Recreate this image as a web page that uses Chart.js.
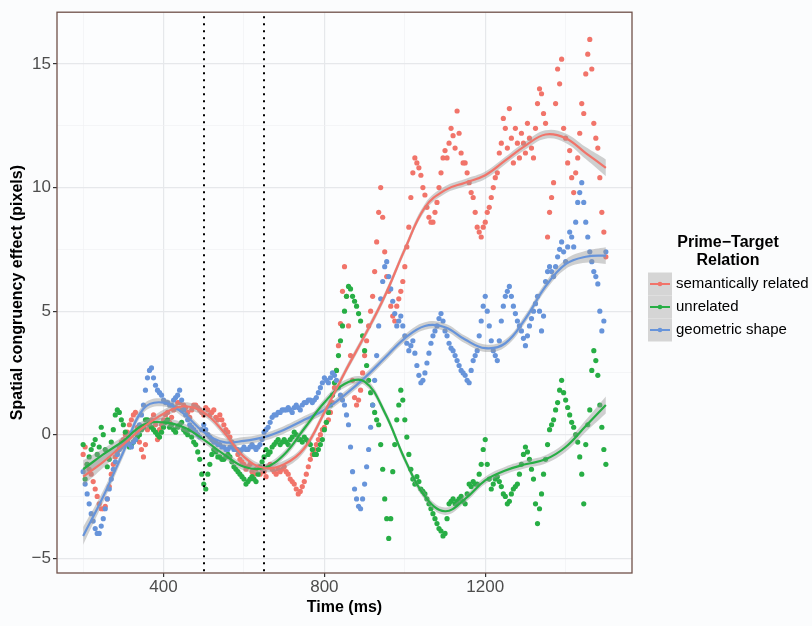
<!DOCTYPE html>
<html>
<head>
<meta charset="utf-8">
<script src="https://cdn.jsdelivr.net/npm/chart.js@4.4.1/dist/chart.umd.min.js"></script>
<style>
  html, body { margin: 0; padding: 0; background: #fbfcfd; }
  #wrap { width: 812px; height: 626px; }
</style>
</head>
<body>
<div id="wrap"><canvas id="chart" width="812" height="626"></canvas></div>
<script>
'use strict';

const seriesNames = ['semantically related', 'unrelated', 'geometric shape'];
const seriesColors = ['#F1746A', '#27AE45', '#6794DA'];

// raw samples read every 10 ms from 200 ms ...
const rawStart = 200;
const rawStep = 10;
const related = [
  -0.8, -1.2, -1.6, -2.2, -2.8, -3.0, -2.6, -1.6, -0.9, -0.5,
  -0.2, 0.1, 0.6, 0.9, -0.3, -0.9, 0.2, 0.6, 0.4, 0.2,
  0.6, 0.9, 0.7, 1.1, 1.3, 1.2, 0.9, 1.0, 1.2, 1.0,
  0.8, 1.0, 0.9, 0.7, 0.8, 0.4, 0.1, -0.3, -0.6, -1.0,
  -1.2, -1.3, -1.5, -1.4, -1.6, -1.5, -1.3, -1.4, -1.6, -1.5,
  -1.3, -1.6, -1.9, -2.2, -2.3, -1.9, -1.3, -0.8, -0.4, 0.0,
  0.3, 0.6, 1.3, 2.6, 4.5, 6.8, 4.4, 2.2, 1.2, 1.8,
  3.2, 4.4, 5.6, 7.8, 10.0, 7.4, 5.8, 4.8, 5.2, 5.8,
  6.8, 8.4, 10.6, 11.0, 10.5, 9.7, 8.8, 8.6, 9.4, 10.6,
  11.5, 11.8, 12.1, 13.1, 11.4, 11.0, 10.2, 9.6, 8.4, 8.0,
  8.6, 9.2, 10.0, 10.6, 11.8, 12.4, 13.2, 11.0, 11.8, 12.2,
  11.4, 12.0, 11.2, 13.4, 13.8, 12.6, 9.0, 10.2, 14.8, 15.2,
  12.0, 11.5, 9.8, 11.2, 13.4, 14.6, 16.0, 12.6, 11.6, 9.0,
  7.2
];
const unrelated = [
  -0.4, -1.2, -0.6, -0.2, -0.5, 0.0, -1.3, -0.3, 0.8, 0.9,
  0.4, -0.3, -0.4, -0.2, 0.0, 0.3, 0.6, 0.3, 0.1, -0.1,
  0.3, 0.6, 0.4, 0.1, 0.4, 0.2, 0.0, -0.1, -0.4, -1.0,
  -2.0, -1.6, -0.8, -0.7, -0.9, -1.0, -0.8, -1.1, -1.4, -1.6,
  -1.8, -1.9, -1.7, -1.9, -1.3, -0.9, -0.8, -0.5, -0.3, -0.4,
  -0.2, -0.4, -0.1, 0.0, -0.2, -0.1, -0.3, -0.6, -0.8, -0.4,
  0.2, 0.9, 1.6, 2.6, 3.8, 5.0, 6.0, 5.6, 5.2, 4.6,
  3.4, 2.2, 1.2, 0.6, -0.4, -2.6, -4.2, -1.5, 0.6, 1.8,
  0.6, -0.8, -1.8, -1.7, -2.2, -2.4, -2.8, -3.2, -3.6, -3.9,
  -4.0, -2.8, -2.6, -2.7, -2.5, -2.8, -2.0, -1.9, -2.0, -1.2,
  -0.2, -1.8, -2.0, -1.7, -2.1, -2.5, -2.7, -2.2, -2.0, -1.2,
  -0.5, -1.0, -1.8, -3.6, -2.4, -1.0, 0.2, 0.6, 1.3, 2.2,
  1.4, 0.8, 0.3, -0.3, -1.6, -0.4, 1.0, 3.4, 2.4, 0.3,
  -1.2
];
const geometric = [
  -1.5, -2.4, -3.2, -3.8, -4.0, -3.4, -2.6, -1.8, -1.1, -0.6,
  -0.4, -0.3, -0.5, -0.2, 0.4, 1.2, 2.3, 2.7, 2.0, 1.7,
  1.4, 1.3, 1.2, 1.5, 1.8, 1.0, 0.6, 0.3, 0.1, -0.1,
  0.4, 0.0, -0.2, -0.3, -0.4, -0.5, -0.6, -0.5, -0.6, -0.7,
  -0.5, -0.6, -0.4, -0.6, -0.4, 0.1, 0.3, 0.7, 0.8, 0.9,
  1.0, 1.1, 0.9, 1.2, 1.0, 1.3, 1.4, 1.3, 1.5, 1.9,
  2.3, 2.1, 2.5, 2.2, 1.6, 1.2, 0.4, -1.5, -2.6, -3.0,
  -2.0, -0.6, 1.2, 3.2, 5.5, 6.8, 6.4, 5.4, 4.4, 4.8,
  4.0, 3.4, 3.8, 2.8, 2.1, 2.5, 3.3, 4.0, 4.4, 4.9,
  4.2, 3.7, 3.4, 3.0, 2.6, 2.4, 2.1, 3.0, 3.4, 4.6,
  5.6, 4.4, 3.4, 3.0, 4.6, 5.6, 6.0, 5.2, 4.6, 4.2,
  3.6, 4.4, 5.0, 5.6, 4.2, 6.2, 6.8, 6.4, 7.2, 7.8,
  7.0, 8.2, 7.6, 9.4, 10.2, 8.6, 7.4, 6.6, 6.1, 4.2,
  7.4
];

// ... and a second reading in between, from 205 ms (the other side of each cluster)
const midStart = 205;
const relatedMid = [
  -0.5, -1.4, -1.9, -2.5, -3.0, -2.9, -2.1, -1.2, -0.7, -0.3,
  0.0, 0.4, 0.8, 0.3, -0.6, -0.4, 0.5, 0.8, -0.2, 0.4,
  0.8, 0.5, 1.0, 1.3, 1.0, 1.1, 0.7, 1.2, 1.1, 0.9,
  1.1, 0.8, 1.0, 0.6, 0.6, 0.2, -0.1, -0.5, -0.8, -1.1,
  -1.4, -1.2, -1.6, -1.3, -1.4, -1.7, -1.2, -1.5, -1.4, -1.4,
  -1.5, -1.8, -2.0, -2.4, -2.1, -1.6, -1.0, -0.6, -0.2, 0.2,
  0.5, 0.9, 1.9, 3.6, 5.8, 5.6, 3.2, 1.5, 1.4, 2.5,
  3.8, 5.0, 6.6, 9.0, 8.8, 6.4, 5.2, 4.6, 5.5, 6.2,
  7.6, 9.6, 11.2, 10.8, 10.0, 9.2, 8.6, 9.0, 10.0, 11.2,
  11.2, 12.4, 11.6, 12.2, 11.0, 10.6, 9.8, 9.0, 8.2, 8.4,
  9.0, 9.6, 10.4, 11.4, 12.8, 11.6, 12.0, 12.4, 11.2, 11.8,
  12.6, 11.6, 12.4, 14.0, 13.0, 8.0, 9.6, 13.4, 14.2, 12.4,
  11.0, 10.4, 10.6, 12.2, 13.0, 15.4, 14.8, 12.0, 10.4, 8.2
];
const unrelatedMid = [
  -1.8, -0.9, -0.4, -0.8, 0.3, -0.6, -1.0, 0.2, 1.0, 0.6,
  0.1, -0.5, -0.3, -0.1, 0.2, 0.6, 0.4, 0.2, 0.0, 0.1,
  0.5, 0.3, 0.2, 0.3, 0.5, 0.1, 0.2, -0.3, -0.7, -1.6,
  -2.2, -1.2, -0.6, -0.9, -1.0, -0.9, -0.9, -1.3, -1.5, -1.7,
  -2.0, -1.8, -1.8, -1.6, -1.1, -0.6, -0.7, -0.4, -0.2, -0.3,
  -0.3, -0.2, 0.1, -0.2, -0.3, -0.2, -0.4, -0.8, -0.6, -0.2,
  0.5, 1.2, 2.1, 3.2, 4.4, 5.6, 5.9, 5.4, 4.9, 4.0,
  2.8, 1.7, 0.9, 0.4, -1.4, -3.4, -3.4, -0.4, 1.2, 1.4,
  -0.1, -1.4, -2.0, -1.9, -2.3, -2.6, -3.0, -3.4, -3.8, -4.1,
  -3.4, -2.7, -2.8, -2.6, -2.7, -2.4, -2.1, -2.0, -1.6, -0.6,
  -1.2, -2.2, -1.8, -1.9, -2.4, -2.8, -2.4, -2.1, -1.6, -0.8,
  -0.7, -1.4, -2.8, -3.0, -1.6, -0.4, 0.4, 1.0, 1.8, 1.7,
  1.1, 0.5, 0.0, -0.9, -2.8, 0.4, 2.6, 3.0, 1.2, -0.6
];
const geometricMid = [
  -2.0, -2.8, -3.5, -4.0, -3.7, -3.0, -2.2, -1.4, -0.8, -0.5,
  -0.3, -0.4, -0.3, 0.1, 0.8, 1.8, 2.6, 2.3, 1.8, 1.6,
  1.3, 1.2, 1.4, 1.6, 1.4, 0.8, 0.4, 0.2, 0.0, 0.2,
  0.2, -0.1, -0.3, -0.4, -0.5, -0.6, -0.5, -0.6, -0.6, -0.6,
  -0.6, -0.5, -0.5, -0.5, -0.2, 0.2, 0.5, 0.8, 0.9, 1.0,
  1.0, 1.0, 1.1, 1.1, 1.2, 1.3, 1.4, 1.4, 1.7, 2.1,
  2.2, 2.3, 2.4, 1.9, 1.4, 0.8, -0.5, -2.2, -2.9, -2.6,
  -1.3, 0.3, 2.2, 4.4, 6.2, 7.0, 5.9, 4.9, 4.6, 4.4,
  3.7, 3.6, 3.3, 2.4, 2.2, 2.9, 3.7, 4.2, 4.7, 4.6,
  4.0, 3.5, 3.2, 2.8, 2.5, 2.2, 2.6, 3.2, 4.0, 5.2,
  5.0, 3.8, 3.2, 3.8, 5.2, 5.8, 5.6, 4.9, 4.4, 3.9,
  4.0, 4.7, 5.3, 5.0, 4.8, 6.6, 6.6, 6.8, 7.5, 7.4,
  7.6, 8.0, 8.6, 9.8, 9.4, 8.0, 7.0, 6.4, 5.0, 4.6
];

// smoothed fits, with half-width of the grey band
const smoothTimes = [200, 250, 300, 350, 400, 450, 500, 550, 600, 650, 700, 750, 800, 850,
  900, 950, 1000, 1050, 1100, 1150, 1200, 1250, 1300, 1350, 1400, 1450, 1500];
const relatedFit = [-1.7, -1.1, -0.4, 0.3, 0.85, 1.15, 0.9, 0.1, -0.9, -1.35, -1.2, -0.55, 0.9, 2.5,
  4.0, 5.6, 7.5, 9.2, 9.9, 10.2, 10.5, 11.1, 11.7, 12.15, 12.0, 11.4, 10.8];
const unrelatedFit = [-1.4, -0.8, -0.25, 0.4, 0.5, 0.3, -0.2, -0.8, -1.3, -1.35, -0.8, 0.25, 1.3, 2.05,
  2.15, 0.9, -1.0, -2.5, -3.1, -2.6, -1.85, -1.45, -1.2, -1.0, -0.5, 0.35, 1.2];
const geometricFit = [-4.1, -2.5, -0.7, 1.05, 1.3, 0.85, 0.1, -0.3, -0.25, -0.1, 0.2, 0.6, 1.0, 1.6,
  2.3, 3.1, 3.9, 4.4, 4.35, 3.85, 3.5, 3.7, 4.7, 6.0, 6.9, 7.2, 7.25];
const fitBand = [0.36, 0.24, 0.19, 0.17, 0.16, 0.16, 0.15, 0.15, 0.15, 0.15, 0.15, 0.15, 0.15, 0.15,
  0.15, 0.15, 0.15, 0.15, 0.15, 0.15, 0.15, 0.15, 0.16, 0.17, 0.19, 0.24, 0.34];

const xGrid = [200, 400, 600, 800, 1000, 1200, 1400];
const xTicks = [400, 800, 1200];
const yGrid = [-5, -2.5, 0, 2.5, 5, 7.5, 10, 12.5, 15];
const yTicks = [-5, 0, 5, 10, 15];
const markers = [500, 650];

const FONT = 'Liberation Sans, Arial, Helvetica, sans-serif';

function points(vals, start) {
  return vals.map((v, i) => ({ x: start + i * rawStep, y: v }));
}
function curve(vals, side) {
  return smoothTimes.map((t, i) => ({ x: t, y: vals[i] + side * fitBand[i] }));
}

const raws = [related, unrelated, geometric];
const mids = [relatedMid, unrelatedMid, geometricMid];
const fits = [relatedFit, unrelatedFit, geometricFit];
const datasets = [];
raws.forEach((vals, i) => {
  datasets.push({
    data: points(vals, rawStart).concat(points(mids[i], midStart)),
    showLine: false, pointRadius: 2.6, pointBorderWidth: 0,
    pointBackgroundColor: seriesColors[i], borderColor: seriesColors[i], order: 12 - i
  });
});
fits.forEach((vals, i) => {
  datasets.push({ data: curve(vals, -1), borderWidth: 0, pointRadius: 0, fill: false, tension: 0.4, order: 5 });
  datasets.push({
    data: curve(vals, 1), borderWidth: 0, pointRadius: 0, tension: 0.4, order: 5,
    fill: '-1', backgroundColor: 'rgba(150,150,150,0.45)'
  });
});
fits.forEach((vals, i) => {
  datasets.push({
    data: curve(vals, 0), borderColor: seriesColors[i], borderWidth: 2.2,
    pointRadius: 0, fill: false, tension: 0.4, order: 1
  });
});

const decor = {
  id: 'decor',
  beforeDraw(chart) {
    const ctx = chart.ctx;
    const a = chart.chartArea;
    ctx.save();
    ctx.fillStyle = '#fbfcfd';
    ctx.fillRect(0, 0, chart.width, chart.height);
    ctx.fillStyle = '#fcfdfe';
    ctx.fillRect(a.left, a.top, a.right - a.left, a.bottom - a.top);
    ctx.restore();
  },
  afterDatasetsDraw(chart) {
    const ctx = chart.ctx;
    const a = chart.chartArea;
    const xs = chart.scales.x;
    ctx.save();
    ctx.strokeStyle = '#000';
    ctx.lineWidth = 2;
    ctx.setLineDash([2, 5]);
    markers.forEach(m => {
      const px = Math.round(xs.getPixelForValue(m));
      ctx.beginPath();
      ctx.moveTo(px, a.top + 4);
      ctx.lineTo(px, a.bottom);
      ctx.stroke();
    });
    ctx.setLineDash([]);
    ctx.strokeStyle = '#6f5149';
    ctx.lineWidth = 1.3;
    ctx.strokeRect(a.left, a.top, a.right - a.left, a.bottom - a.top);
    ctx.restore();
  },
  afterDraw(chart) {
    const ctx = chart.ctx;
    const a = chart.chartArea;
    ctx.save();
    ctx.fillStyle = '#000';
    ctx.textAlign = 'center';
    ctx.textBaseline = 'middle';
    ctx.font = 'bold 16px ' + FONT;
    ctx.fillText('Time (ms)', (a.left + a.right) / 2, 608);
    ctx.save();
    ctx.translate(18, (a.top + a.bottom) / 2);
    ctx.rotate(-Math.PI / 2);
    ctx.fillText('Spatial congruency effect (pixels)', 0, 0);
    ctx.restore();

    // legend
    ctx.fillText('Prime\u2212Target', 728, 243);
    ctx.fillText('Relation', 728, 261);
    ctx.font = '15px ' + FONT;
    ctx.textAlign = 'left';
    seriesNames.forEach((name, i) => {
      const top = 272.5 + i * 23;
      const cy = top + 11.5;
      ctx.fillStyle = '#d5d5d5';
      ctx.fillRect(648, top, 24, 23);
      ctx.strokeStyle = seriesColors[i];
      ctx.lineWidth = 2;
      ctx.beginPath();
      ctx.moveTo(650, cy);
      ctx.lineTo(670, cy);
      ctx.stroke();
      ctx.fillStyle = seriesColors[i];
      ctx.beginPath();
      ctx.arc(660, cy, 2.3, 0, Math.PI * 2);
      ctx.fill();
      ctx.fillStyle = '#000';
      ctx.fillText(name, 676, cy);
    });
    ctx.restore();
  }
};

const isMajor = (list, v) => list.some(t => Math.abs(t - v) < 1e-6);

new Chart(document.getElementById('chart'), {
  type: 'line',
  data: { datasets },
  options: {
    responsive: false,
    devicePixelRatio: 1,
    animation: false,
    layout: { padding: { left: 0, right: 180, top: 6, bottom: 0 } },
    plugins: { legend: { display: false }, tooltip: { enabled: false } },
    scales: {
      x: {
        type: 'linear', min: 135, max: 1565,
        afterBuildTicks: s => { s.ticks = xGrid.map(v => ({ value: v })); },
        afterFit: s => { s.height = 53; },
        border: { display: false },
        grid: {
          color: c => isMajor(xTicks, c.tick.value) ? '#e6e8eb' : '#f0f1f3',
          lineWidth: c => isMajor(xTicks, c.tick.value) ? 1.2 : 0.7,
          tickColor: c => isMajor(xTicks, c.tick.value) ? '#333333' : 'rgba(0,0,0,0)',
          tickLength: 4
        },
        ticks: {
          autoSkip: false, maxRotation: 0, minRotation: 0, padding: 0,
          color: '#4d4d4d', font: { family: FONT, size: 17 },
          callback: v => isMajor(xTicks, v) ? String(v) : ''
        }
      },
      y: {
        type: 'linear', min: -5.6, max: 17.1,
        afterBuildTicks: s => { s.ticks = yGrid.map(v => ({ value: v })); },
        afterFit: s => { s.width = 57; },
        border: { display: false },
        grid: {
          color: c => isMajor(yTicks, c.tick.value) ? '#e6e8eb' : '#f0f1f3',
          lineWidth: c => isMajor(yTicks, c.tick.value) ? 1.2 : 0.7,
          tickColor: c => isMajor(yTicks, c.tick.value) ? '#333333' : 'rgba(0,0,0,0)',
          tickLength: 4
        },
        ticks: {
          autoSkip: false, padding: 2,
          color: '#4d4d4d', font: { family: FONT, size: 17 },
          callback: v => isMajor(yTicks, v) ? String(v).replace('-', '\u2212') : ''
        }
      }
    }
  },
  plugins: [decor]
});
</script>
</body>
</html>
